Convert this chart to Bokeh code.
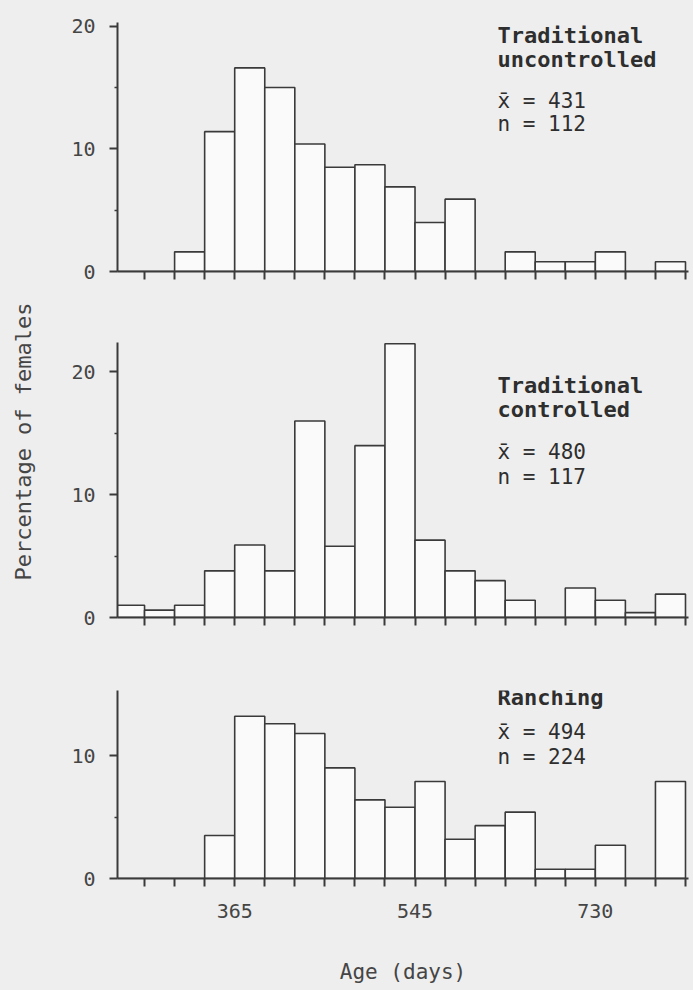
import math
from bokeh.plotting import figure
from bokeh.models import FixedTicker, Label, Range1d, CustomJSTickFormatter
from bokeh.layouts import column, row
from bokeh.embed import file_html
from bokeh.resources import INLINE

# ---- data ----
# one-month age classes; x unit = months of age (12 months = 365 days)
bin_start_month = list(range(8, 27))
month_ticks = list(range(9, 28))
labelled_months = [12, 18, 24]
day_tick_labels = ["365", "545", "730"]

trad_uncontrolled = [0, 0, 1.6, 11.4, 16.6, 15.0, 10.4, 8.5, 8.7, 6.9, 4.0, 5.9,
                     0, 1.6, 0.8, 0.8, 1.6, 0, 0.8]
trad_controlled = [1.0, 0.6, 1.0, 3.8, 5.9, 3.8, 16.0, 5.8, 14.0, 22.3, 6.3, 3.8,
                   3.0, 1.4, 0, 2.4, 1.4, 0.4, 1.9]
ranching = [0, 0, 0, 3.5, 13.2, 12.6, 11.8, 9.0, 6.4, 5.8, 7.9, 3.2,
            4.3, 5.4, 0.75, 0.75, 2.7, 0, 7.9]

panel_titles = [["Traditional", "uncontrolled"], ["Traditional", "controlled"], ["Ranching"]]
panel_means = [431, 480, 494]
panel_n = [112, 117, 224]

FONT = "DejaVu Sans Mono"
INK = "#3a3a3a"
TXT = "#454545"
BG = "#eeeeee"
LEFT_W = 40


def make_panel(values, ymax, yticks, yminor, height, top_b, bottom_b, frame_h,
               title_lines, mean, n, text_y, bottom=False):
    p = figure(width=693 - LEFT_W, height=height, output_backend="svg", toolbar_location=None,
               x_range=Range1d(8.1, 27.1), y_range=Range1d(0, ymax),
               min_border_left=117 - LEFT_W, min_border_right=5,
               min_border_top=top_b, min_border_bottom=bottom_b)
    p.background_fill_color = BG
    p.border_fill_color = BG
    p.outline_line_color = None
    p.grid.visible = False

    right = [s + 1 for s in bin_start_month]
    p.quad(left=bin_start_month, right=right, bottom=0, top=values,
           fill_color="#fafafa", line_color=INK, line_width=1.6)

    xa = p.xaxis[0]
    xa.ticker = FixedTicker(ticks=labelled_months,
                            minor_ticks=[m for m in month_ticks if m not in labelled_months])
    xa.formatter = CustomJSTickFormatter(
        args=dict(months=labelled_months, names=day_tick_labels),
        code="const i = months.indexOf(tick); return i < 0 ? '' : names[i];")
    if bottom:
        xa.axis_label = "Age (days)"
        xa.axis_label_standoff = 39
        xa.axis_label_text_font = FONT
        xa.axis_label_text_font_size = "21px"
        xa.axis_label_text_font_style = "normal"
        xa.axis_label_text_color = TXT
        xa.major_label_text_color = TXT
    else:
        xa.major_label_text_color = None
    xa.major_label_standoff = 17
    xa.major_label_text_font = FONT
    xa.major_label_text_font_size = "20px"
    xa.axis_line_width = 2
    xa.axis_line_color = INK
    for kind in ("major", "minor"):
        setattr(xa, kind + "_tick_line_width", 2)
        setattr(xa, kind + "_tick_line_color", INK)
        setattr(xa, kind + "_tick_in", 0)
        setattr(xa, kind + "_tick_out", 8)

    ya = p.yaxis[0]
    ya.ticker = FixedTicker(ticks=yticks, minor_ticks=yminor)
    ya.major_label_standoff = 14
    ya.major_label_text_font = FONT
    ya.major_label_text_font_size = "20px"
    ya.major_label_text_color = TXT
    ya.axis_line_width = 2
    ya.axis_line_color = INK
    ya.major_tick_line_width = 2
    ya.major_tick_line_color = INK
    ya.major_tick_in = 0
    ya.major_tick_out = 8
    ya.minor_tick_line_width = 1.5
    ya.minor_tick_line_color = INK
    ya.minor_tick_in = 0
    ya.minor_tick_out = 3

    # annotation block (screen units, relative to frame bottom-left)
    lines = [(t, "bold", "22px") for t in title_lines]
    lines += [("x\u0304 = %d" % mean, "normal", "21px"), ("n = %d" % n, "normal", "21px")]
    for (txt, style, size), yy in zip(lines, text_y):
        p.add_layout(Label(x=380, y=frame_h - yy, x_units="screen", y_units="screen",
                           text=txt, text_font=FONT, text_font_style=style,
                           text_font_size=size, text_color="#2e2e2e",
                           text_baseline="alphabetic", text_align="left"))
    return p


# frame geometry (page px): p1 frame 22..271, p2 342..617, p3 690..878
p1 = make_panel(trad_uncontrolled, 20.3, [0, 10, 20], [5, 15], 330, 22, 59, 249,
                panel_titles[0], panel_means[0], panel_n[0], [13, 37, 78, 101])
p2 = make_panel(trad_controlled, 22.4, [0, 10, 20], [5, 15], 350, 12, 63, 275,
                panel_titles[1], panel_means[1], panel_n[1], [43, 67, 109, 134])
p3 = make_panel(ranching, 15.3, [0, 10], [5], 310, 10, 112, 188,
                panel_titles[2], panel_means[2], panel_n[2], [7, 41, 66], bottom=True)

# shared y-axis title in its own narrow strip on the left
lab = figure(width=LEFT_W, height=990, output_backend="svg", toolbar_location=None,
             x_range=Range1d(0, 1), y_range=Range1d(0, 1), min_border=0)
lab.axis.visible = False
lab.grid.visible = False
lab.outline_line_color = None
lab.background_fill_color = BG
lab.border_fill_color = BG
lab.add_layout(Label(x=23, y=549, x_units="screen", y_units="screen",
                     text="Percentage of females", angle=math.pi / 2,
                     text_font=FONT, text_font_size="22px", text_color=TXT,
                     text_align="center", text_baseline="middle"))

layout = row(lab, column(p1, p2, p3, spacing=0, styles={"background-color": BG}),
             spacing=0, styles={"background-color": BG})
open("out.html", "w").write(file_html(layout, INLINE))
